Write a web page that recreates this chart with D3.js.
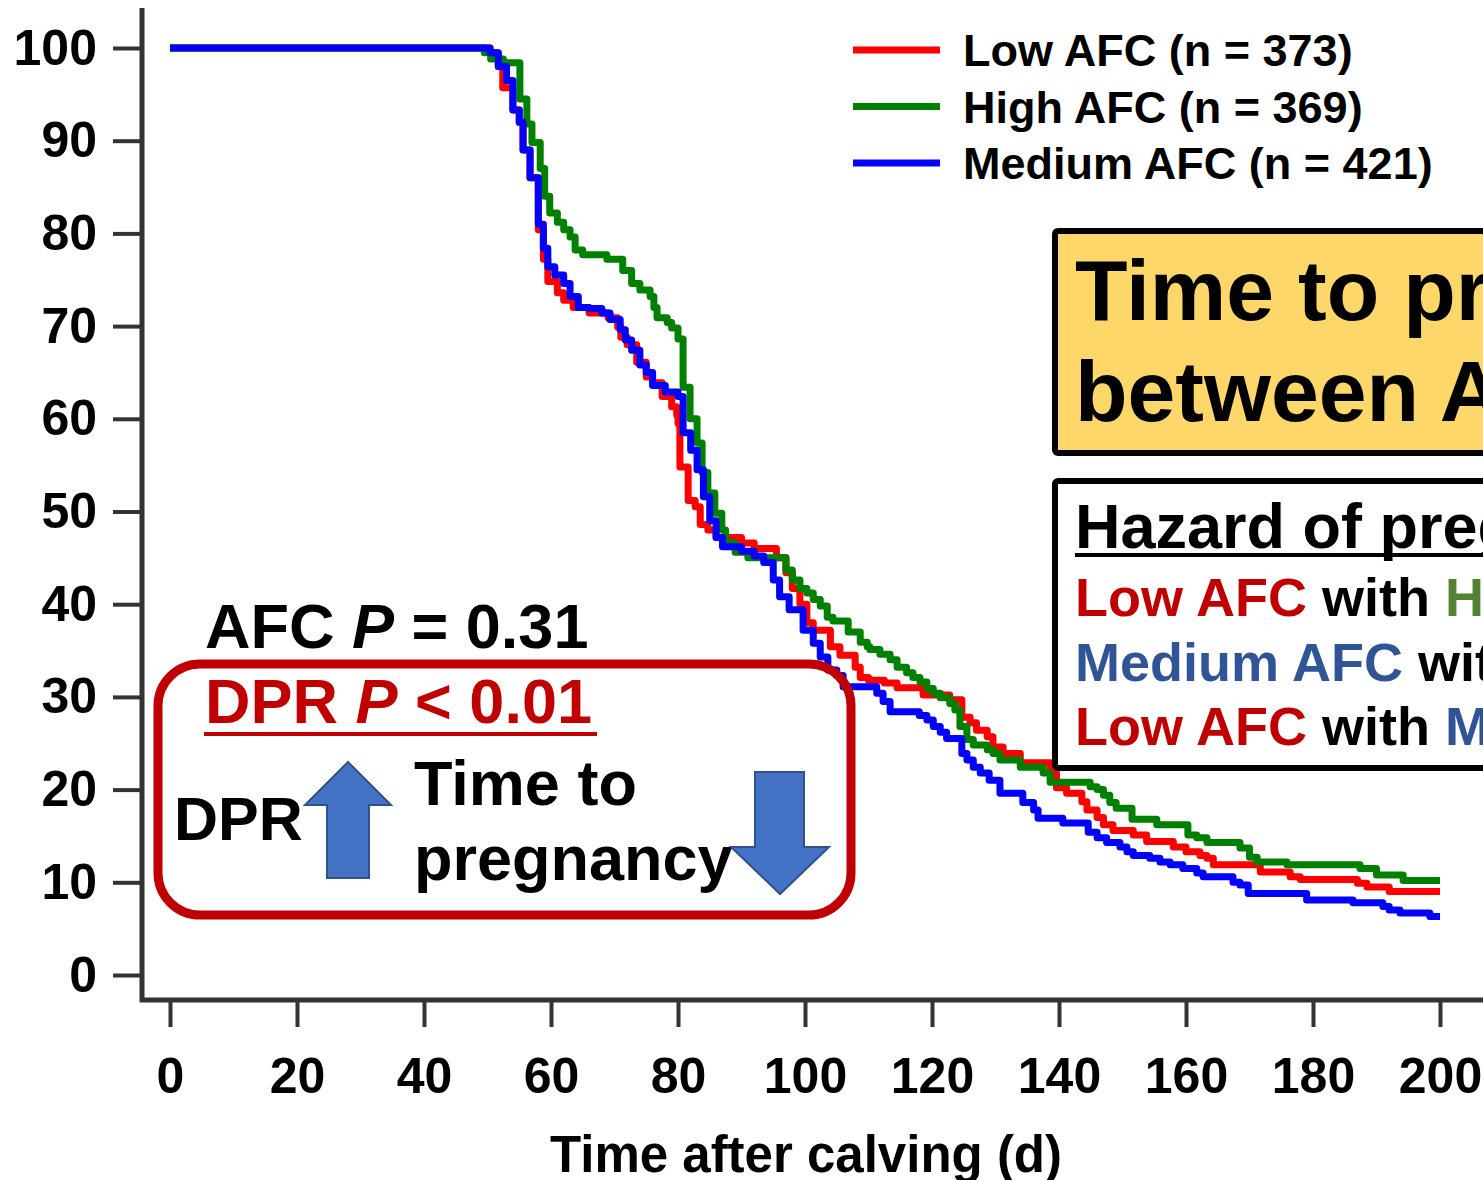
<!DOCTYPE html>
<html>
<head>
<meta charset="utf-8">
<script src="https://cdn.jsdelivr.net/npm/d3@7"></script>
<style>
  body { margin: 0; background: #fff; }
  text { font-family: "Liberation Sans", Arial, sans-serif; font-weight: bold; }
</style>
</head>
<body>
<div id="chart"></div>
<script>
// ---------- data: [day, % not pregnant] at each step ----------
var lowAFC = [[0,100],[50.4,99.5],[51.7,98],[52.4,95.7],[54,93.3],[55,92],[55.6,89],[56.7,86],[58,80.4],
  [58.8,77.2],[59.5,74.8],[61,73.6],[62,72.8],[63.5,72],[66,71.4],[69,70.9],[70.5,69.9],[71,68.8],[72,68],
  [73.5,66.1],[75,64.5],[76,63.9],[77.5,62.4],[79,61.3],[79.8,60.4],[80,59.5],[80.3,54.8],[81.6,51.2],
  [82.7,50.5],[83.5,48.6],[84.7,48],[86,47.2],[90,46.6],[92,46],[95.5,45],[97,43.4],[98,41.7],[99.2,40],
  [100.3,38],[101.3,37.2],[104,35.4],[105.5,34.5],[107.9,33.2],[108.7,32.1],[110,31.8],[112.5,31.5],
  [114.5,31],[118.6,30.2],[122.8,29.7],[124.7,27.8],[126,27.2],[127,26.4],[128.7,25.7],[129.6,24.6],
  [131.2,23.9],[133.9,22.9],[138.6,21.8],[139.6,20.2],[141.2,19.6],[143.6,18.7],[144.4,17.8],[146,17],
  [147,16.2],[148.5,15.6],[151.7,15.1],[153.8,14.4],[158,13.8],[160,13.3],[162.2,12.9],[163.3,12.6],
  [164.3,11.9],[171.7,11.1],[176.4,10.6],[178,10.3],[187,9.9],[188.5,9.5],[192,9.0],[200,9.0]];

var highAFC = [[0,100],[49.5,99.5],[50.5,98.8],[52.5,98.4],[55.1,94.5],[56.2,91.8],[57,89.8],[58.3,87],
  [59,84],[59.8,82.2],[61,81.2],[62,80.4],[63,79.6],[63.8,78.2],[65,77.7],[68.8,77.2],[71.3,76],[72.7,74.6],
  [74,73.9],[75.6,73.2],[76.2,72],[76.7,70.9],[78.3,70.4],[79,69.8],[80,68.6],[80.8,63.4],[81.9,60],
  [83,57.4],[83.8,54.2],[84.7,52],[85.8,49.8],[86.9,48],[87.5,46.6],[89,45.6],[91,45],[97,43.7],[98,42.6],
  [99.2,41.7],[100.3,41.2],[101.3,40.5],[102.4,39.8],[103.5,38.6],[104.4,38.2],[106.8,37],[108.7,35.9],
  [109.8,35.4],[110.2,35.1],[111.8,34.6],[113.4,34],[114.5,33.2],[116,32.6],[117,32.1],[118.1,31.6],
  [119.2,30.9],[120.2,30.4],[121.3,29.9],[122.8,29.3],[123.6,28.6],[124.4,26.8],[125.5,25.4],[126.5,24.8],
  [128.7,24.3],[129.6,23.9],[130.7,23.2],[133.9,22.4],[137.5,21.8],[138.6,20.8],[144.9,20.3],[146,20],
  [147,19.4],[148,18.6],[149,18],[151.5,16.8],[155.4,16.2],[160.3,15.1],[161.7,14.8],[163.3,14.3],
  [168.5,13.7],[170,12.7],[171.2,12.2],[175.9,11.9],[187.4,11.5],[190,10.8],[194.2,10.2],[200,10.2]];

var mediumAFC = [[0,100],[50.4,99.5],[51.7,98],[53,96.5],[54,93.3],[55,92],[55.6,89],[56.7,86],[58,81],
  [58.8,78.4],[59.5,76.4],[60.6,75.5],[62,74.6],[63,73.2],[64.3,72],[66,71.9],[68,71.4],[69.3,70.7],
  [70.9,69.6],[71.7,68.5],[72.7,67.4],[74,65.8],[75,65],[76,63.6],[78,62.9],[80,62.4],[80.8,58.5],[82,56.6],
  [83,54.5],[84,51.6],[85,49],[86,47.2],[87,46.2],[90,45.7],[92,45.2],[93.5,44.5],[95,42.6],[96,40.8],
  [97.5,39.4],[99.7,37.2],[101.3,35.8],[102.4,34.3],[103.6,32.9],[105,32.3],[106,31.1],[111.3,30.4],
  [112.3,29.5],[113.4,28.4],[118,28],[119.2,27.5],[120.2,26.8],[121.3,26.2],[122.3,25.5],[124.7,23.9],
  [125.5,23.2],[126.5,22.4],[127.6,21.8],[129,21],[130.7,19.6],[134.3,18.6],[136,17.8],[136.7,16.9],
  [140.6,16.4],[144.6,15.4],[146,14.8],[147.5,14.3],[149.6,13.8],[150.7,13.3],[151.7,12.9],[154.3,12.6],
  [155.9,12.2],[157.5,11.9],[159.5,11.5],[161.7,11],[162.7,10.6],[167.4,10],[168.5,9.7],[169.8,8.8],
  [179,8.1],[186.3,7.8],[191,7.4],[192,7],[193.7,6.7],[198.4,6.3],[200,6.3]];

var seriesNames = ["Low AFC (n = 373)", "High AFC (n = 369)", "Medium AFC (n = 421)"];
var seriesColors = ["#ff0000", "#008000", "#0000ff"];
var xTicks = [0, 20, 40, 60, 80, 100, 120, 140, 160, 180, 200];
var yTicks = [0, 10, 20, 30, 40, 50, 60, 70, 80, 90, 100];

//---------------------------------- svg --------------------
var width = 1483, height = 1180;
var svg = d3.select("#chart").append("svg")
  .attr("width", width).attr("height", height);

svg.append("rect").attr("width", width).attr("height", height).attr("fill", "#fff");

var x_scale = d3.scaleLinear().domain([0, 200]).range([170, 1440]);
var y_scale = d3.scaleLinear().domain([0, 100]).range([975, 48]);

// ---------- axes ----------
var yAxis = svg.append("g").attr("transform", "translate(142,0)")
  .call(d3.axisLeft(y_scale).tickValues(yTicks).tickSize(29).tickSizeOuter(0).tickPadding(16));
var xAxis = svg.append("g").attr("transform", "translate(0,1000)")
  .call(d3.axisBottom(x_scale).tickValues(xTicks).tickSize(27).tickSizeOuter(0).tickPadding(30));

[yAxis, xAxis].forEach(function(ax) {
  ax.select(".domain").remove();
  ax.selectAll(".tick line").attr("stroke", "#333").attr("stroke-width", 4);
  ax.selectAll(".tick text").attr("fill", "#000").style("font-size", "50px")
    .style("font-family", "'Liberation Sans', Arial, sans-serif").style("font-weight", "bold");
});

svg.append("line").attr("x1", 142).attr("x2", 142).attr("y1", 8).attr("y2", 1002)
  .attr("stroke", "#333").attr("stroke-width", 5);
svg.append("line").attr("x1", 140).attr("x2", width).attr("y1", 1000).attr("y2", 1000)
  .attr("stroke", "#333").attr("stroke-width", 5);

svg.append("text").attr("x", 806).attr("y", 1172).attr("text-anchor", "middle")
  .style("font-size", "51px").text("Time after calving (d)");

// ---------- curves ----------
var line = d3.line()
  .x(function(d) { return x_scale(d[0]); })
  .y(function(d) { return y_scale(d[1]); })
  .curve(d3.curveStepAfter);

[lowAFC, highAFC, mediumAFC].forEach(function(s, i) {
  svg.append("path").datum(s)
    .attr("d", line)
    .attr("fill", "none")
    .attr("stroke", seriesColors[i])
    .attr("stroke-width", 7)
    .attr("stroke-linejoin", "round");
});

// ---------- legend ----------
seriesNames.forEach(function(n, i) {
  var ly = 50 + i * 56.5;
  svg.append("line").attr("x1", 853).attr("x2", 940).attr("y1", ly).attr("y2", ly)
    .attr("stroke", seriesColors[i]).attr("stroke-width", 7);
  svg.append("text").attr("x", 963).attr("y", ly + 16).style("font-size", "45px").text(n);
});

// ---------- title boxes (cut by the right edge) ----------
svg.append("rect").attr("x", 1055).attr("y", 231).attr("width", 500).attr("height", 222)
  .attr("rx", 3).attr("fill", "#fdd76a").attr("stroke", "#000").attr("stroke-width", 6);
svg.append("text").attr("x", 1075).attr("y", 320).style("font-size", "86px").text("Time to pregnancy");
svg.append("text").attr("x", 1075).attr("y", 421).style("font-size", "86px").text("between AFC groups");

svg.append("rect").attr("x", 1055).attr("y", 481).attr("width", 500).attr("height", 287)
  .attr("rx", 3).attr("fill", "#fff").attr("stroke", "#000").attr("stroke-width", 6);
svg.append("text").attr("x", 1075).attr("y", 548).style("font-size", "63px").text("Hazard of pregnancy");
svg.append("line").attr("x1", 1075).attr("x2", width).attr("y1", 555).attr("y2", 555)
  .attr("stroke", "#000").attr("stroke-width", 4);

var hazardRows = [
  [["Low AFC", "#c00000"], [" with ", "#000"], ["High AFC", "#548235"]],
  [["Medium AFC", "#2f5597"], [" with ", "#000"], ["High AFC", "#548235"]],
  [["Low AFC", "#c00000"], [" with ", "#000"], ["Medium AFC", "#2f5597"]]
];
hazardRows.forEach(function(row, i) {
  var t = svg.append("text").attr("x", 1075).attr("y", 616 + i * 64.5)
    .style("font-size", "54px").attr("xml:space", "preserve");
  row.forEach(function(p) { t.append("tspan").attr("fill", p[1]).text(p[0]); });
});

// ---------- P values and DPR box ----------
var afc = svg.append("text").attr("x", 205).attr("y", 648).style("font-size", "63px");
afc.append("tspan").text("AFC ");
afc.append("tspan").style("font-style", "italic").text("P");
afc.append("tspan").text(" = 0.31");

svg.append("rect").attr("x", 158).attr("y", 664).attr("width", 693).attr("height", 251)
  .attr("rx", 42).attr("fill", "none").attr("stroke", "#c00000").attr("stroke-width", 9);

var dpr = svg.append("text").attr("x", 205).attr("y", 723).style("font-size", "63px").attr("fill", "#c00000");
dpr.append("tspan").text("DPR ");
dpr.append("tspan").style("font-style", "italic").text("P");
dpr.append("tspan").text(" < 0.01");
svg.append("line").attr("x1", 204).attr("x2", 597).attr("y1", 734).attr("y2", 734)
  .attr("stroke", "#c00000").attr("stroke-width", 4);

svg.append("text").attr("x", 174).attr("y", 840).style("font-size", "61px").text("DPR");
svg.append("text").attr("x", 414).attr("y", 805).style("font-size", "63px").text("Time to");
svg.append("text").attr("x", 414).attr("y", 880).style("font-size", "63px").text("pregnancy");

var upArrow = [[348, 762], [391, 805], [369, 805], [369, 878], [327, 878], [327, 805], [305, 805]];
var downArrow = [[755, 772], [804, 772], [804, 847], [829, 847], [780, 894], [731, 847], [755, 847]];
[upArrow, downArrow].forEach(function(pts) {
  svg.append("polygon").attr("points", pts.map(function(p) { return p.join(","); }).join(" "))
    .attr("fill", "#4472c4").attr("stroke", "#2f528f").attr("stroke-width", 2);
});
</script>
</body>
</html>
